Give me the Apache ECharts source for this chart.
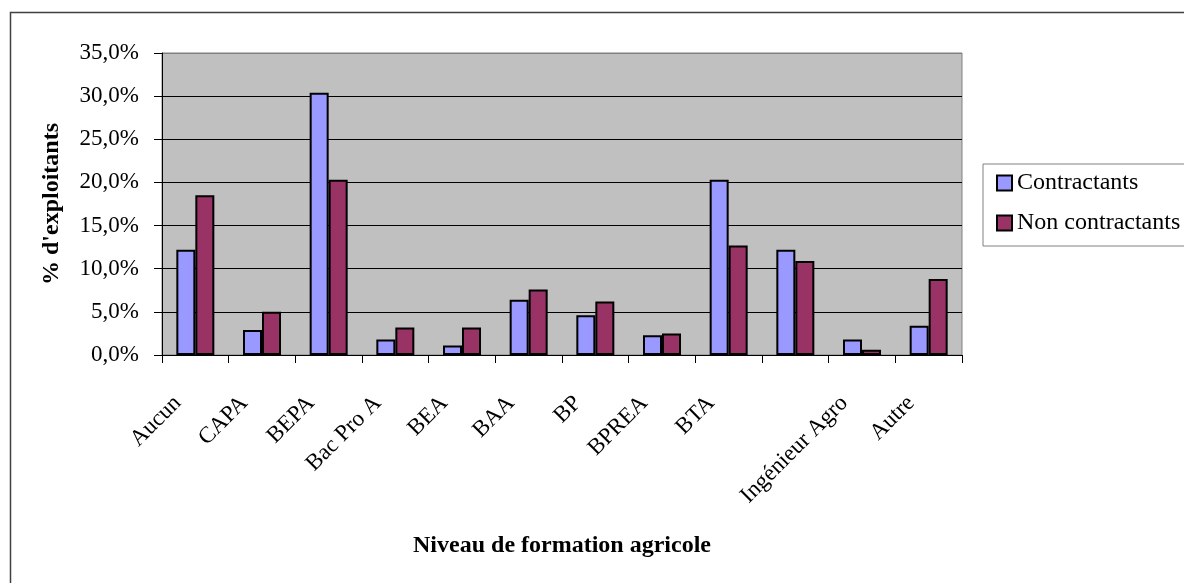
<!DOCTYPE html>
<html>
<head>
<meta charset="utf-8">
<title>Niveau de formation agricole</title>
<script src="https://cdn.jsdelivr.net/npm/echarts@6/dist/echarts.min.js"></script>
<style>
  html, body { margin: 0; padding: 0; background: #fff; }
  #chart { width: 1184px; height: 583px; }
</style>
</head>
<body>
<div id="chart"></div>
<script>
// données (en %)
const categories = ['Aucun', 'CAPA', 'BEPA', 'Bac Pro A', 'BEA', 'BAA', 'BP', 'BPREA', 'BTA', '', 'Ingénieur Agro', 'Autre']
const contractants = [12.2, 2.9, 30.4, 1.8, 1.1, 6.4, 4.6, 2.3, 20.3, 12.2, 1.8, 3.4]
const nonContractants = [18.5, 5.0, 20.3, 3.2, 3.2, 7.6, 6.2, 2.5, 12.7, 10.9, 0.6, 8.8]
const yTicks = [0, 5, 10, 15, 20, 25, 30, 35]

const font = 'Liberation Serif'
const chart = echarts.init(document.getElementById('chart'))

// format "35,0%"
const fmtPct = (v) => v.toFixed(1).replace('.', ',') + '%'

const option = {
  animation: false,
  textStyle: { fontFamily: font, color: '#000' },
  graphic: [
    {
      // cadre extérieur du graphique
      type: 'rect',
      shape: { x: 10.5, y: 12.5, width: 1400, height: 800 },
      style: { fill: null, stroke: '#404040', lineWidth: 1.5 },
      silent: true
    }
  ],
  grid: {
    left: 162,
    right: 222,
    top: 53,
    bottom: 228,
    show: true,
    backgroundColor: '#C0C0C0',
    borderColor: '#808080',
    borderWidth: 1
  },
  legend: {
    orient: 'vertical',
    left: 983,
    top: 164,
    icon: 'rect',
    itemWidth: 15,
    itemHeight: 15,
    itemGap: 16,
    padding: [7, 20, 11, 13],
    backgroundColor: '#fff',
    borderColor: '#808080',
    borderWidth: 1,
    textStyle: { fontFamily: font, fontSize: 24, color: '#000' },
    data: ['Contractants', 'Non contractants']
  },
  xAxis: {
    type: 'category',
    data: categories,
    name: 'Niveau de formation agricole',
    nameLocation: 'middle',
    nameGap: 179,
    nameTextStyle: { fontFamily: font, fontSize: 24, fontWeight: 'bold', color: '#000' },
    axisLine: { lineStyle: { color: '#000', width: 1 } },
    axisTick: { show: true, length: 8, lineStyle: { color: '#000' } },
    axisLabel: {
      interval: 0,
      rotate: 45,
      margin: 27,
      padding: [0, 25, 0, 0],
      fontFamily: font,
      fontSize: 23,
      color: '#000'
    }
  },
  yAxis: {
    type: 'value',
    min: 0,
    max: 35,
    interval: 5,
    name: "% d'exploitants",
    nameLocation: 'middle',
    nameGap: 98,
    nameTextStyle: { fontFamily: font, fontSize: 24, fontWeight: 'bold', color: '#000' },
    axisLine: { show: true, lineStyle: { color: '#000', width: 1 } },
    axisTick: { show: true, length: 8, lineStyle: { color: '#000' } },
    axisLabel: {
      margin: 23,
      fontFamily: font,
      fontSize: 23,
      color: '#000',
      formatter: (v) => yTicks.includes(v) ? fmtPct(v) : ''
    },
    splitLine: {
      show: true,
      lineStyle: {
        color: ['#000', '#000', '#000', '#000', '#000', '#000', '#000', '#808080'],
        width: 1
      }
    }
  },
  series: [
    {
      name: 'Contractants',
      type: 'bar',
      data: contractants,
      barWidth: 19,
      barGap: '0%',
      itemStyle: { color: '#9999FF', borderColor: '#000', borderWidth: 2 }
    },
    {
      name: 'Non contractants',
      type: 'bar',
      data: nonContractants,
      barWidth: 19,
      barGap: '0%',
      itemStyle: { color: '#993366', borderColor: '#000', borderWidth: 2 }
    }
  ]
}

chart.setOption(option)
window.addEventListener('resize', () => chart.resize())
</script>
</body>
</html>
